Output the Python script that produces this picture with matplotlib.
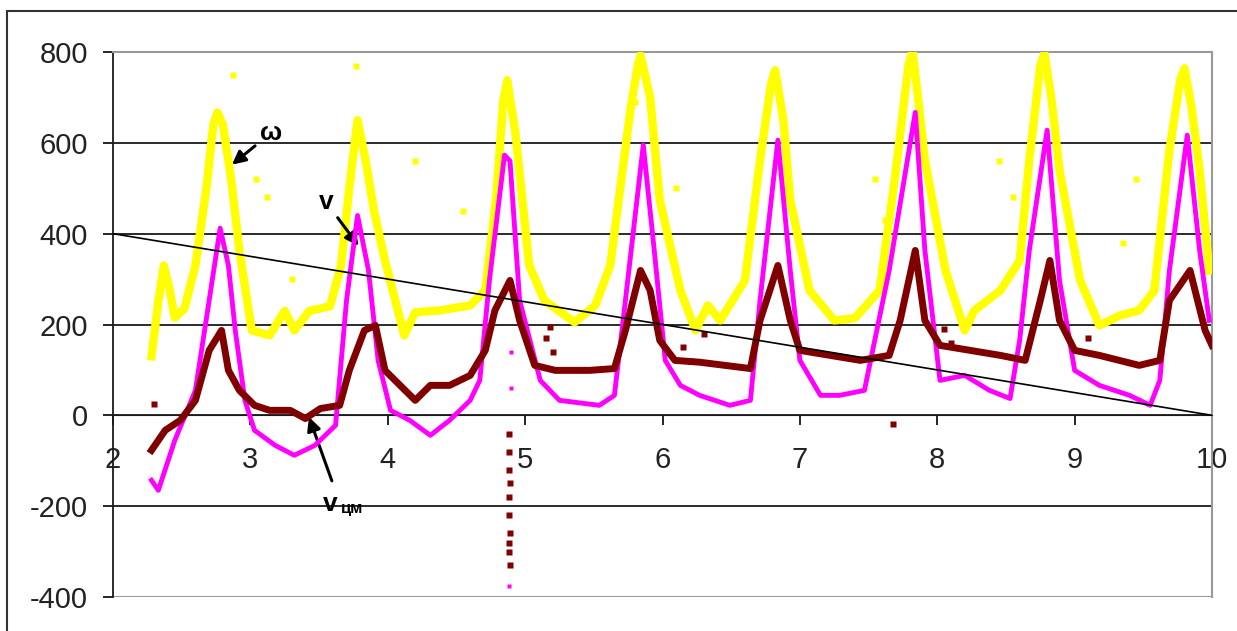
import matplotlib.pyplot as plt
from matplotlib.patches import Rectangle

plt.rcParams['font.family'] = ['Liberation Sans', 'DejaVu Sans']
plt.rcParams['axes.unicode_minus'] = False

# omega (yellow)
w_x = [2.28, 2.33, 2.37, 2.41, 2.45, 2.52, 2.6, 2.68, 2.73, 2.76, 2.8, 2.86, 2.92, 3.01, 3.14, 3.25, 3.32,
       3.43, 3.58, 3.66, 3.72, 3.78, 3.84, 3.9, 3.98, 4.12, 4.2, 4.38, 4.6, 4.71, 4.79, 4.84, 4.87, 4.93,
       5.03, 5.14, 5.36, 5.51, 5.62, 5.69, 5.77, 5.82, 5.84, 5.91, 5.98, 6.13, 6.24, 6.33, 6.42, 6.6, 6.71,
       6.79, 6.82, 6.88, 6.93, 7.07, 7.25, 7.4, 7.58, 7.69, 7.79, 7.82, 7.86, 7.91, 8.06, 8.2, 8.27, 8.46, 8.6,
       8.67, 8.75, 8.78, 8.83, 8.89, 9.04, 9.18, 9.33, 9.47, 9.58, 9.69, 9.77, 9.8, 9.85, 9.91, 9.98]
w_y = [130, 250, 330, 280, 215, 235, 330, 500, 640, 667, 640, 520, 363, 187, 176, 230, 187,
       230, 240, 330, 500, 650, 560, 450, 341, 176, 227, 231, 242, 275, 480, 690, 738, 620,
       330, 253, 205, 242, 330, 495, 680, 770, 793, 700, 474, 275, 187, 242, 209, 297, 562,
       730, 760, 650, 474, 275, 209, 214, 275, 518, 770, 804, 700, 562, 319, 187, 231, 275, 341,
       562, 770, 797, 700, 540, 297, 198, 220, 231, 275, 584, 740, 764, 680, 540, 319]

# v (magenta)
v_x = [2.28, 2.33, 2.45, 2.6, 2.7, 2.78, 2.84, 2.89, 2.96, 3.03, 3.18, 3.32, 3.47, 3.62, 3.7, 3.78,
       3.86, 3.93, 4.02, 4.16, 4.31, 4.45, 4.6, 4.67, 4.74, 4.85, 4.89, 4.96, 5.11, 5.25, 5.54, 5.65,
       5.73, 5.86, 5.94, 6.02, 6.13, 6.27, 6.49, 6.64, 6.71, 6.84, 6.93, 7.0, 7.15, 7.29, 7.47, 7.65,
       7.84, 7.91, 8.02, 8.2, 8.38, 8.53, 8.6, 8.67, 8.8, 8.89, 9.0, 9.18, 9.4, 9.55, 9.62, 9.69,
       9.82, 9.91, 9.98]
v_y = [-143, -165, -55, 55, 253, 412, 330, 187, 33, -33, -66, -88, -66, -22, 253, 440,
       319, 121, 11, -11, -44, -11, 33, 77, 297, 573, 560, 253, 77, 33, 22, 44,
       253, 595, 363, 121, 66, 44, 22, 33, 253, 606, 319, 121, 44, 44, 55, 319,
       667, 363, 77, 88, 55, 37, 165, 363, 628, 297, 99, 66, 44, 22, 77, 319,
       617, 363, 209]

# v_cm (maroon)
c_x = [2.28, 2.38, 2.49, 2.6, 2.7, 2.79, 2.84, 2.92, 3.03, 3.14, 3.29, 3.4, 3.51, 3.65, 3.72, 3.83,
       3.91, 3.98, 4.09, 4.2, 4.31, 4.45, 4.6, 4.71, 4.78, 4.89, 4.96, 5.07, 5.22, 5.47, 5.65, 5.73,
       5.84, 5.91, 5.98, 6.09, 6.27, 6.64, 6.71, 6.84, 6.93, 7.0, 7.22, 7.44, 7.65, 7.73, 7.84, 7.91,
       8.02, 8.24, 8.46, 8.64, 8.75, 8.82, 8.89, 9.0, 9.18, 9.47, 9.62, 9.69, 9.84, 9.95, 10.0]
c_y = [-77, -33, -11, 33, 143, 187, 99, 55, 22, 11, 11, -7, 15, 22, 99, 187,
       198, 99, 66, 33, 66, 66, 88, 143, 231, 297, 209, 110, 99, 99, 103, 187,
       319, 275, 165, 121, 117, 103, 209, 330, 209, 143, 132, 121, 132, 209, 363, 209,
       154, 143, 132, 121, 253, 341, 209, 143, 132, 110, 121, 253, 319, 187, 154]

# stray points
w_dots_x = [2.87, 3.04, 3.12, 3.3, 3.77, 4.2, 4.55, 5.8, 6.1, 7.55, 7.62, 8.45, 8.55, 9.35, 9.45]
w_dots_y = [749, 520, 480, 300, 770, 560, 450, 690, 500, 520, 430, 560, 480, 380, 520]
c_dots_x = [4.88, 4.88, 4.88, 4.89, 4.88, 4.88, 4.89, 4.88, 4.88, 4.89, 5.15, 5.2, 5.18,
            6.15, 6.3, 6.2, 7.68, 8.05, 8.1, 9.1, 2.3]
c_dots_y = [-40, -80, -120, -150, -180, -220, -260, -280, -300, -330, 170, 140, 195,
            150, 180, 120, -20, 190, 160, 170, 25]
v_dots_x = [4.88, 4.9, 4.9]
v_dots_y = [-375, 140, 60]

# trend line
t_x = [2, 10]
t_y = [400, 0]

fig = plt.figure(figsize=(12.37, 6.31), dpi=100)
ax = fig.add_axes([113/1237, 1 - 597/631, 1099/1237, 545/631])

ax.plot(w_x, w_y, color='#ffff00', lw=6, solid_joinstyle='round', zorder=3)
ax.plot(w_dots_x, w_dots_y, 's', color='#ffff00', ms=4, mec='none', zorder=3)
ax.plot(v_x, v_y, color='#ff00ff', lw=3.5, solid_joinstyle='round', zorder=4)
ax.plot(v_dots_x, v_dots_y, 's', color='#ff00ff', ms=3.5, mec='none', zorder=4)
ax.plot(c_x, c_y, color='#800000', lw=5, solid_joinstyle='round', zorder=5)
ax.plot(c_dots_x, c_dots_y, 's', color='#800000', ms=4, mec='none', zorder=5)
ax.plot(t_x, t_y, color='black', lw=1.2, zorder=6)

ax.set_xlim(2, 10)
ax.set_ylim(-400, 800)
ax.set_xticks(range(2, 11))
ax.set_yticks(range(-400, 801, 200))
ax.yaxis.grid(True, color='#1a1a1a', lw=1.3)
ax.set_axisbelow(True)

ax.spines['bottom'].set_position(('data', 0))
ax.spines['bottom'].set_color('#1a1a1a')
ax.spines['left'].set_color('#1a1a1a')
ax.spines['left'].set_linewidth(1.3)
ax.spines['top'].set_color('#999999')
ax.spines['right'].set_color('#999999')
ax.spines['top'].set_linewidth(1.5)
ax.spines['right'].set_linewidth(1.5)
ax.tick_params(axis='x', direction='out', length=7, width=1.2, pad=15,
               labelsize=21, labelcolor='#222222')
ax.tick_params(axis='y', direction='out', length=7, width=1.2, pad=11,
               labelsize=21, labelcolor='#222222')

# bottom border of plot area
ax.axhline(-400, color='#999999', lw=1.5, zorder=1)

# annotations
ax.annotate('ω', xy=(2.85, 548), xytext=(3.07, 622), fontsize=19, fontweight='bold',
            ha='left', va='center',
            arrowprops=dict(arrowstyle='-|>', color='black', lw=2.2, mutation_scale=20))
ax.annotate('v', xy=(3.8, 368), xytext=(3.55, 470), fontsize=19, fontweight='bold',
            ha='center', va='center',
            arrowprops=dict(arrowstyle='-|>', color='black', lw=2.2, mutation_scale=20))
ax.annotate('', xy=(3.42, 2), xytext=(3.6, -150),
            arrowprops=dict(arrowstyle='-|>', color='black', lw=2.2, mutation_scale=20))
ax.text(3.53, -195, 'v', fontsize=19, fontweight='bold', ha='left', va='center')
ax.text(3.66, -205, 'цм', fontsize=12, fontweight='bold', ha='left', va='center')

fig.add_artist(Rectangle((7/1237, -0.2), 1.5, 1.2 - 11/631, transform=fig.transFigure,
                         fill=False, ec='#333333', lw=1.5))

fig.savefig('out.png', dpi=100)
